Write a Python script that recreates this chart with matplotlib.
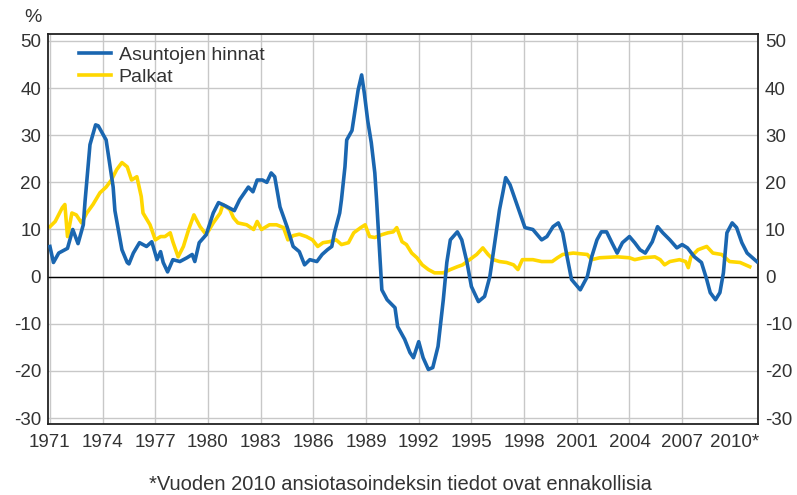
#!/usr/bin/env python3
"""Asuntojen hinnat ja palkat, vuosimuutos (%), 1971-2010."""

import matplotlib
matplotlib.use("Agg")
import matplotlib.pyplot as plt

# Asuntojen hinnat (vuosimuutos %), luettu kuvasta
house_year = [1971.0, 1971.2, 1971.5, 1972.0, 1972.3, 1972.6, 1972.9, 1973.0, 1973.28,
              1973.6, 1973.75, 1974.2, 1974.6, 1974.7, 1975.1, 1975.4, 1975.5, 1975.75,
              1976.1, 1976.5, 1976.8, 1977.1, 1977.3, 1977.45, 1977.7, 1978.0, 1978.4,
              1978.8, 1979.1, 1979.25, 1979.5, 1979.9, 1980.3, 1980.6, 1981.0, 1981.5,
              1981.8, 1982.3, 1982.56, 1982.8, 1983.1, 1983.35, 1983.6, 1983.8, 1984.0,
              1984.1, 1984.5, 1984.85, 1985.2, 1985.5, 1985.8, 1986.2, 1986.5, 1986.8,
              1987.05, 1987.2, 1987.5, 1987.6, 1987.8, 1987.9, 1988.2, 1988.4, 1988.55,
              1988.75, 1988.9, 1989.1, 1989.3, 1989.5, 1989.6, 1989.8, 1989.9, 1990.2,
              1990.65, 1990.8, 1991.2, 1991.5, 1991.7, 1992.0, 1992.25, 1992.55, 1992.8,
              1993.1, 1993.4, 1993.6, 1993.8, 1994.2, 1994.45, 1994.75, 1995.0, 1995.4,
              1995.75, 1996.05, 1996.35, 1996.6, 1996.8, 1996.95, 1997.2, 1997.5, 1998.05,
              1998.5, 1999.0, 1999.3, 1999.65, 1999.95, 2000.2, 2000.45, 2000.7, 2001.2,
              2001.6, 2001.85, 2002.15, 2002.4, 2002.7, 2003.0, 2003.3, 2003.6, 2004.0,
              2004.3, 2004.6, 2004.9, 2005.3, 2005.6, 2005.9, 2006.3, 2006.7, 2007.0,
              2007.3, 2007.7, 2008.1, 2008.4, 2008.6, 2008.9, 2009.15, 2009.35, 2009.55,
              2009.85, 2010.1, 2010.4, 2010.7, 2011.25]
house_val = [6.4, 3.0, 5.0, 6.0, 10.0, 7.0, 11.0, 16.0, 28.0,
             32.2, 32.0, 29.0, 19.0, 14.0, 5.7, 3.0, 2.7, 5.0,
             7.2, 6.4, 7.4, 3.6, 5.3, 3.0, 1.0, 3.6, 3.2,
             4.0, 4.7, 3.2, 7.2, 8.9, 13.5, 15.7, 15.0, 14.0,
             16.3, 19.0, 18.0, 20.5, 20.5, 20.0, 22.0, 21.2, 17.0,
             14.8, 10.6, 6.4, 5.3, 2.5, 3.6, 3.2, 4.7, 5.7,
             6.4, 9.3, 13.5, 16.3, 23.3, 29.0, 31.0, 36.0, 39.6,
             42.8, 39.0, 33.0, 28.4, 22.0, 16.3, 3.6, -2.8, -4.9,
             -6.6, -10.6, -13.3, -16.1, -17.2, -13.8, -17.2, -19.7, -19.3,
             -14.8, -4.9, 3.0, 7.8, 9.5, 7.8, 3.0, -2.1, -5.3,
             -4.2, 0.0, 7.8, 14.2, 18.0, 21.0, 19.5, 16.3, 10.4,
             10.0, 7.8, 8.5, 10.6, 11.4, 9.3, 4.2, -0.6, -2.8,
             0.0, 4.2, 7.8, 9.5, 9.5, 7.2, 5.0, 7.2, 8.5,
             7.2, 5.7, 5.0, 7.4, 10.6, 9.3, 7.8, 6.1, 6.8,
             6.1, 4.2, 3.0, -0.6, -3.4, -4.9, -3.4, 0.8, 9.3,
             11.4, 10.4, 7.2, 5.0, 3.2]

# Palkat (ansiotasoindeksi, vuosimuutos %), luettu kuvasta
wage_year = [1971.0, 1971.3, 1971.7, 1971.85, 1972.0, 1972.25, 1972.5, 1972.8, 1973.1,
             1973.45, 1973.85, 1974.2, 1974.5, 1974.8, 1975.1, 1975.4, 1975.65, 1975.95,
             1976.2, 1976.3, 1976.7, 1977.0, 1977.3, 1977.55, 1977.85, 1978.0, 1978.3,
             1978.6, 1978.9, 1979.2, 1979.35, 1979.55, 1979.9, 1980.3, 1980.7, 1980.85,
             1981.25, 1981.45, 1981.7, 1982.2, 1982.6, 1982.8, 1983.05, 1983.5, 1983.9,
             1984.3, 1984.55, 1984.85, 1985.2, 1985.6, 1985.95, 1986.25, 1986.55, 1986.9,
             1987.3, 1987.6, 1988.0, 1988.3, 1988.7, 1988.95, 1989.2, 1989.5, 1989.9,
             1990.25, 1990.55, 1990.75, 1991.05, 1991.3, 1991.6, 1991.9, 1992.2, 1992.55,
             1992.9, 1993.4, 1993.8, 1994.2, 1994.5, 1994.9, 1995.3, 1995.65, 1995.95,
             1996.25, 1996.6, 1997.0, 1997.4, 1997.65, 1997.9, 1998.5, 1999.0, 1999.6,
             1999.9, 2000.2, 2000.8, 2001.6, 2001.85, 2002.3, 2003.3, 2004.0, 2004.3,
             2004.8, 2005.45, 2005.75, 2006.0, 2006.3, 2006.85, 2007.2, 2007.35, 2007.5,
             2007.9, 2008.4, 2008.75, 2009.25, 2009.4, 2009.7, 2010.3, 2010.85]
wage_val = [10.6, 11.7, 14.6, 15.3, 8.5, 13.5, 13.1, 11.4, 13.5,
            15.3, 17.8, 19.0, 20.5, 22.7, 24.2, 23.3, 20.5, 21.2,
            17.0, 13.5, 11.0, 7.8, 8.5, 8.5, 9.3, 7.4, 4.2,
            6.4, 10.0, 13.1, 12.0, 10.6, 8.9, 11.4, 13.5, 15.3,
            14.2, 12.5, 11.4, 11.0, 10.0, 11.7, 10.0, 11.0, 11.0,
            10.4, 7.8, 8.7, 9.0, 8.5, 7.8, 6.4, 7.2, 7.4,
            7.8, 6.8, 7.2, 9.3, 10.4, 11.0, 8.5, 8.3, 8.9,
            9.3, 9.5, 10.4, 7.4, 6.8, 5.0, 4.0, 2.5, 1.5,
            0.8, 0.8, 1.5, 2.1, 2.5, 3.6, 4.7, 6.1, 4.7,
            3.6, 3.2, 3.0, 2.5, 1.5, 3.6, 3.6, 3.2, 3.2,
            4.0, 4.7, 5.0, 4.7, 3.6, 4.0, 4.2, 4.0, 3.6,
            4.0, 4.2, 3.6, 2.5, 3.2, 3.6, 3.2, 1.9, 4.2,
            5.7, 6.4, 5.0, 4.7, 4.2, 3.2, 3.0, 2.1]

tick_years = [1971, 1974, 1977, 1980, 1983, 1986, 1989, 1992, 1995, 1998, 2001, 2004, 2007, 2010]
tick_labels = [str(y) for y in tick_years[:-1]] + ["2010*"]
y_ticks = [-30, -20, -10, 0, 10, 20, 30, 40, 50]

BLUE = "#1a66b0"
YELLOW = "#ffd700"
TEXT = "#333333"

plt.rcParams['font.family'] = ['Liberation Sans', 'DejaVu Sans']
plt.rcParams['axes.unicode_minus'] = False

fig = plt.figure(figsize=(7.97, 4.95), dpi=100)
ax = fig.add_axes([48 / 797, 1 - 424 / 495, 710 / 797, 390 / 495])

ax.plot(house_year, house_val, color=BLUE, lw=2.6, label="Asuntojen hinnat", zorder=3)
ax.plot(wage_year, wage_val, color=YELLOW, lw=2.6, label="Palkat", zorder=2)
ax.axhline(0, color="black", lw=1.0, zorder=1)

ax.set_xlim(1970.89, 2011.32)
ax.set_ylim(-31.27, 51.48)
ax.set_xticks(tick_years)
ax.set_xticklabels(tick_labels)
ax.set_yticks(y_ticks)

ax.grid(True, color="#c8c8c8", lw=1.0, zorder=0)
ax.set_axisbelow(True)
# viimeisellä tikillä ei ole pystyviivaa
ax.get_xgridlines()[-1].set_visible(False)

ax.tick_params(axis="both", length=0, labelsize=13.5, colors=TEXT)
ax.tick_params(axis="x", pad=7)
ax.tick_params(axis="y", pad=5, labelright=True)

for side in ["left", "right", "top", "bottom"]:
    ax.spines[side].set_color("#222222")
    ax.spines[side].set_linewidth(1.3)

leg = ax.legend(loc="upper left", bbox_to_anchor=(0.027, 0.998), frameon=False,
                fontsize=14, handlelength=1.65, handletextpad=0.4,
                labelspacing=0.22, borderaxespad=0.2)
for txt in leg.get_texts():
    txt.set_color(TEXT)

fig.text(33 / 797, 1 - 18 / 495, "%", ha="center", va="center", fontsize=14, color=TEXT)
fig.text(400 / 797, 1 - 484 / 495, "*Vuoden 2010 ansiotasoindeksin tiedot ovat ennakollisia",
         ha="center", va="center", fontsize=14.5, color=TEXT)

fig.savefig("out.png", dpi=100)
